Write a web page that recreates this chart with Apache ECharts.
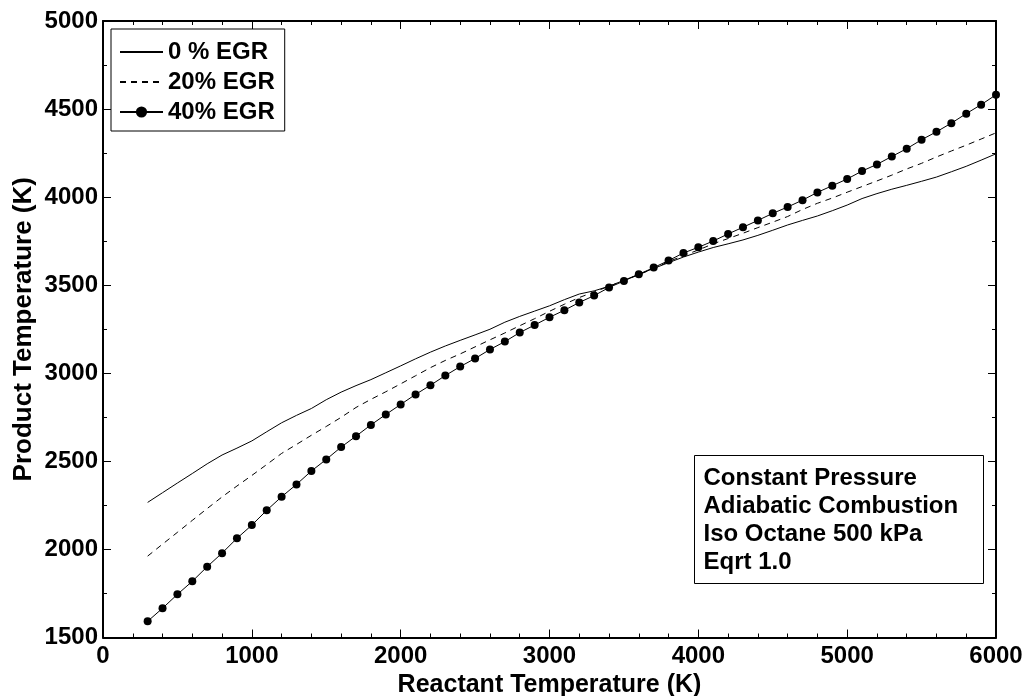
<!DOCTYPE html>
<html>
<head>
<meta charset="utf-8">
<script src="https://cdn.jsdelivr.net/npm/echarts@6/dist/echarts.min.js"></script>
<style>
  html, body { margin: 0; padding: 0; background: #fff; }
  #chart { width: 1026px; height: 696px; }
</style>
</head>
<body>
<div id="chart"></div>
<script>
// Reactant temperatures (K) at which the product temperature was computed
const reactantTemps = [300, 400, 500, 600, 700, 800, 900, 1000, 1100, 1200,
  1300, 1400, 1500, 1600, 1700, 1800, 1900, 2000, 2100, 2200,
  2300, 2400, 2500, 2600, 2700, 2800, 2900, 3000, 3100, 3200,
  3300, 3400, 3500, 3600, 3700, 3800, 3900, 4000, 4100, 4200,
  4300, 4400, 4500, 4600, 4700, 4800, 4900, 5000, 5100, 5200,
  5300, 5400, 5500, 5600, 5700, 5800, 5900, 6000];

// Adiabatic product temperature (K), 0 % EGR
const egr0 = [2267, 2322, 2377, 2431, 2486, 2536, 2575, 2616, 2668, 2719,
  2761, 2800, 2850, 2893, 2930, 2964, 3003, 3042, 3082, 3120,
  3155, 3187, 3218, 3250, 3290, 3323, 3353, 3383, 3418, 3450,
  3468, 3494, 3528, 3562, 3595, 3628, 3660, 3688, 3714, 3735,
  3757, 3783, 3812, 3842, 3868, 3893, 3923, 3955, 3992, 4020,
  4045, 4067, 4090, 4114, 4144, 4175, 4210, 4246];

// Adiabatic product temperature (K), 20 % EGR
const egr20 = [1962, 2030, 2097, 2165, 2232, 2298, 2360, 2420, 2482, 2545,
  2596, 2648, 2698, 2750, 2806, 2852, 2895, 2940, 2986, 3032,
  3073, 3110, 3150, 3190, 3229, 3270, 3310, 3352, 3392, 3430,
  3462, 3494, 3526, 3560, 3594, 3634, 3668, 3700, 3735, 3765,
  3795, 3827, 3858, 3890, 3930, 3965, 3995, 4028, 4060, 4092,
  4125, 4160, 4192, 4228, 4262, 4295, 4330, 4365];

// Adiabatic product temperature (K), 40 % EGR
const egr40 = [1592, 1666, 1745, 1819, 1902, 1979, 2063, 2138, 2222, 2299,
  2369, 2445, 2511, 2581, 2643, 2707, 2766, 2823, 2880, 2932,
  2987, 3038, 3084, 3135, 3180, 3231, 3274, 3318, 3358, 3402,
  3441, 3487, 3524, 3562, 3600, 3640, 3683, 3715, 3751, 3791,
  3829, 3868, 3908, 3944, 3983, 4027, 4065, 4103, 4148, 4186,
  4231, 4275, 4326, 4371, 4420, 4474, 4525, 4581];

const seriesNames = ['0 % EGR', '20% EGR', '40% EGR'];
const noteLines = ['Constant Pressure', 'Adiabatic Combustion', 'Iso Octane 500 kPa', 'Eqrt 1.0'];

const FONT = '"Liberation Sans", Arial, sans-serif';
const pairs = vals => reactantTemps.map((t, i) => [t, vals[i]]);
const plain = v => String(v);

const frameAxis = {
  axisLine: { show: true, onZero: false, lineStyle: { color: '#000', width: 2 } },
  axisTick: { show: true, inside: true, length: 8, lineStyle: { color: '#000', width: 1 } },
  splitLine: { show: false }
};

const chart = echarts.init(document.getElementById('chart'), null, { renderer: 'canvas' });

chart.setOption({
  animation: false,
  backgroundColor: '#fff',
  grid: { left: 103, right: 30, top: 21, bottom: 58.5, containLabel: false, outerBoundsMode: 'none' },
  xAxis: [
    Object.assign({}, frameAxis, {
      type: 'value', position: 'bottom', min: 0, max: 6000, interval: 1000,
      minorTick: { show: true, splitNumber: 5, length: 4, lineStyle: { color: '#000', width: 1 } },
      axisLabel: { color: '#000', fontFamily: FONT, fontWeight: 'bold', fontSize: 24, margin: 7, formatter: plain },
      name: 'Reactant Temperature (K)', nameLocation: 'middle', nameGap: 35, nameMoveOverlap: false,
      nameTextStyle: { color: '#000', fontFamily: FONT, fontWeight: 'bold', fontSize: 25 }
    }),
    Object.assign({}, frameAxis, {
      type: 'value', position: 'top', min: 0, max: 6000, interval: 1000,
      minorTick: { show: true, splitNumber: 5, length: 4, lineStyle: { color: '#000', width: 1 } },
      axisLabel: { show: false }
    })
  ],
  yAxis: [
    Object.assign({}, frameAxis, {
      type: 'value', position: 'left', min: 1500, max: 5000, interval: 500,
      minorTick: { show: true, splitNumber: 2, length: 4, lineStyle: { color: '#000', width: 1 } },
      axisLabel: { color: '#000', fontFamily: FONT, fontWeight: 'bold', fontSize: 24, margin: 5, formatter: plain },
      name: 'Product Temperature (K)', nameLocation: 'middle', nameGap: 66, nameMoveOverlap: false,
      nameTextStyle: { color: '#000', fontFamily: FONT, fontWeight: 'bold', fontSize: 26 }
    }),
    Object.assign({}, frameAxis, {
      type: 'value', position: 'right', min: 1500, max: 5000, interval: 500,
      minorTick: { show: true, splitNumber: 2, length: 4, lineStyle: { color: '#000', width: 1 } },
      axisLabel: { show: false }
    })
  ],
  legend: {
    left: 111, top: 29, orient: 'vertical',
    data: seriesNames,
    itemWidth: 43, itemHeight: 14, itemGap: 6,
    padding: [11, 10, 7, 8],
    borderColor: '#000', borderWidth: 1, backgroundColor: '#fff',
    textStyle: { color: '#000', fontFamily: FONT, fontWeight: 'bold', fontSize: 24, lineHeight: 22 }
  },
  series: [
    {
      name: seriesNames[0], type: 'line', data: pairs(egr0),
      symbol: 'none', showSymbol: false,
      lineStyle: { color: '#000', width: 1, type: 'solid' },
      itemStyle: { color: 'rgba(0,0,0,0)' }
    },
    {
      name: seriesNames[1], type: 'line', data: pairs(egr20),
      symbol: 'none', showSymbol: false,
      lineStyle: { color: '#000', width: 1, type: [6, 5] },
      itemStyle: { color: 'rgba(0,0,0,0)' }
    },
    {
      name: seriesNames[2], type: 'line', data: pairs(egr40),
      symbol: 'circle', symbolSize: 8, showSymbol: true,
      lineStyle: { color: '#000', width: 1 },
      itemStyle: { color: '#000' }
    }
  ],
  graphic: [
    {
      type: 'group', left: 694, top: 455,
      children: [
        { type: 'rect', shape: { x: 0, y: 0, width: 289, height: 128 },
          style: { fill: '#fff', stroke: '#000', lineWidth: 1 } }
      ].concat(noteLines.map((line, i) => ({
        type: 'text', x: 9, y: 23 + i * 28,
        style: { text: line, fill: '#000', font: 'bold 24px ' + FONT, textVerticalAlign: 'middle' }
      })))
    }
  ]
});
</script>
</body>
</html>
